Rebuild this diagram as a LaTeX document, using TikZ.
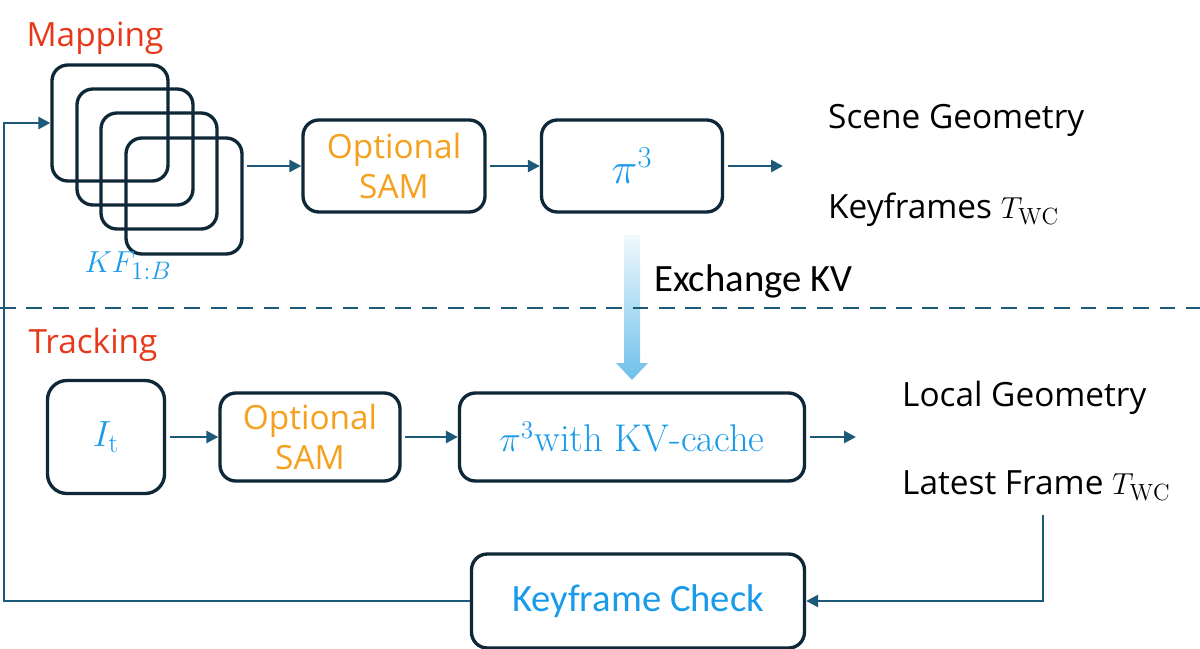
\documentclass[tikz,border=0pt]{standalone}
\usepackage{fontspec}
\setsansfont{Open Sans}
\newfontfamily\narrowfont{Carlito}
\renewcommand{\familydefault}{\sfdefault}
\usepackage{tikz}
\usetikzlibrary{arrows.meta,positioning,calc}

\definecolor{boxline}{HTML}{0F2838}
\definecolor{flowline}{HTML}{1D5A7A}
\definecolor{mathblue}{HTML}{1A9AEA}
\definecolor{samorange}{HTML}{F5A01E}
\definecolor{stagered}{HTML}{E8381A}
\definecolor{kvblue}{HTML}{6EC0EA}

\begin{document}
\begin{tikzpicture}[
  x=0.02cm, y=-0.02cm,
  font=\fontsize{19}{23}\selectfont,
  block/.style={draw=boxline, line width=1.9pt, rounded corners=9pt, align=center, inner sep=2pt},
  frame/.style={draw=boxline, line width=1.9pt, rounded corners=9pt, minimum size=2.32cm},
  arrow/.style={-{Triangle[length=2.4mm,width=2.4mm]}, line width=1.5pt, draw=flowline},
  flow/.style={line width=1.5pt, draw=flowline},
  label/.style={anchor=west, align=left},
  stage/.style={text=stagered, font=\fontsize{19}{23}\selectfont},
  narrow/.style={font=\narrowfont\fontsize{22}{26}\selectfont}
]
\useasboundingbox (0,0) rectangle (1200,649);

% mapping
\node[stage] (Mapping) at (95,38) {Mapping};
\node[frame] (KF1) at (110,123) {};
\node[frame] (KF2) at (135,147) {};
\node[frame] (KF3) at (159,171) {};
\node[frame] (KF4) at (184,196) {};
\node[text=mathblue] (KFlabel) at (128,266) {$KF_{1:B}$};
\node[block, minimum width=3.64cm, minimum height=1.84cm, text=samorange] (SAMmap) at (394,166) {Optional\\SAM};
\node[block, minimum width=3.62cm, minimum height=1.84cm, text=mathblue, font=\fontsize{24}{28}\selectfont] (PiMap) at (632,166) {$\pi^3$};
\coordinate (MapOut) at (783,166);
\node[label] (SceneGeo) at (822,120) {Scene Geometry};
\node[label] (KeyPose) at (822,210) {Keyframes $T_{\mathrm{WC}}$};

\draw[arrow, shorten <=2pt] (KF4.east |- SAMmap.west) -- (SAMmap.west);
\draw[arrow, shorten <=2pt] (SAMmap) -- (PiMap);
\draw[arrow, shorten <=2pt] (PiMap) -- (MapOut);

% exchange
\coordinate (KVtop) at (632,235);
\coordinate (KVtip) at (632,380);
\shade[top color=kvblue!10, bottom color=kvblue] ($(KVtop)+(-8,0)$) -- ($(KVtop)+(8,0)$) -- ($(KVtip)+(8,-17)$) -- ($(KVtip)+(16,-17)$) -- (KVtip) -- ($(KVtip)+(-16,-17)$) -- ($(KVtip)+(-8,-17)$) -- cycle;
\node[label, narrow] (ExKV) at (648,281) {Exchange KV};
\coordinate (SplitL) at (0,308);
\coordinate (SplitR) at (1200,308);
\draw[flow, dash pattern=on 9pt off 6pt] (SplitL) -- (SplitR);

% tracking
\node[stage] (Tracking) at (93,345) {Tracking};
\node[block, minimum width=2.34cm, minimum height=2.26cm, rounded corners=11pt, text=mathblue, font=\fontsize{22}{26}\selectfont] (Frame) at (106,437) {$I_{\mathrm{t}}$};
\node[block, minimum width=3.6cm, minimum height=1.76cm, text=samorange] (SAMtrack) at (310,437) {Optional\\SAM};
\node[block, minimum width=6.9cm, minimum height=1.76cm, text=mathblue, font=\fontsize{22}{26}\selectfont] (PiTrack) at (632,437) {$\pi^3$\rmfamily with KV-cache};
\coordinate (TrackOut) at (856,437);
\node[label] (LocalGeo) at (896,398) {Local Geometry};
\node[label] (LatestPose) at (896,486) {Latest Frame $T_{\mathrm{WC}}$};
\node[block, minimum width=6.66cm, minimum height=1.88cm, text=mathblue, narrow] (KFCheck) at (638,601) {Keyframe Check};

\draw[arrow, shorten <=2pt] (Frame) -- (SAMtrack);
\draw[arrow, shorten <=2pt] (SAMtrack) -- (PiTrack);
\draw[arrow, shorten <=2pt] (PiTrack) -- (TrackOut);

% keyframe loop
\coordinate (CheckTurn) at (1043,515);
\coordinate (LoopCorner) at (4,601);
\draw[arrow] (CheckTurn) |- (KFCheck.east);
\draw[arrow] (KFCheck.west) -- (LoopCorner) |- (KF1.west);
\end{tikzpicture}
\end{document}
